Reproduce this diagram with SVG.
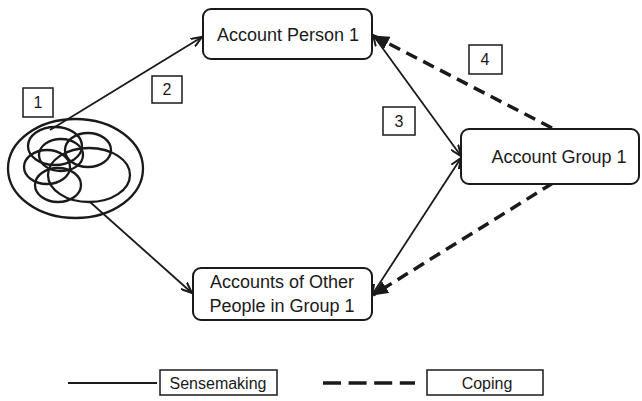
<svg xmlns="http://www.w3.org/2000/svg" width="642" height="401" viewBox="0 0 642 401">
<style>
.node{fill:#fff;stroke:#1a1a1a;stroke-width:2}
.lbl{font-family:"Liberation Sans",Arial,sans-serif;font-size:18px;fill:#1a1a1a;text-anchor:middle}
.num{font-family:"Liberation Sans",Arial,sans-serif;font-size:16px;fill:#1a1a1a;text-anchor:middle}
.nbox{fill:#fff;stroke:#1a1a1a;stroke-width:1.5}
.solid{fill:none;stroke:#1a1a1a;stroke-width:1.8}
.dash{fill:none;stroke:#1a1a1a;stroke-width:3.5;stroke-dasharray:12 7}
.ell{fill:none;stroke:#1a1a1a;stroke-width:2.3}
</style>
<defs>
<marker id="arr" viewBox="0 0 12 10" refX="11" refY="5" markerWidth="12" markerHeight="10" markerUnits="userSpaceOnUse" orient="auto-start-reverse">
<path d="M0,0.5 L11,5 L0,9.5" fill="none" stroke="#1a1a1a" stroke-width="2"/>
</marker>
<marker id="darr" viewBox="0 0 16 14" refX="15" refY="7" markerWidth="16" markerHeight="14" markerUnits="userSpaceOnUse" orient="auto-start-reverse">
<path d="M0,0 L16,7 L0,14 Z" fill="#1a1a1a"/>
</marker>
</defs>

<g id="connectors">
<line class="solid" x1="50" y1="130" x2="202" y2="37" marker-end="url(#arr)"/>
<line class="solid" x1="90" y1="202" x2="192" y2="293" marker-end="url(#arr)"/>
<line class="solid" x1="373" y1="35" x2="461" y2="156" marker-start="url(#arr)" marker-end="url(#arr)"/>
<line class="solid" x1="372" y1="295" x2="461" y2="158" marker-start="url(#arr)" marker-end="url(#arr)"/>
<line class="dash" x1="552" y1="128" x2="374" y2="36" marker-end="url(#darr)"/>
<line class="dash" x1="553" y1="183" x2="373" y2="295" marker-end="url(#darr)"/>
</g>

<g id="cluster">
<ellipse class="ell" cx="75.5" cy="168.5" rx="67.5" ry="49.5"/>
<ellipse class="ell" cx="55" cy="146" rx="27" ry="19"/>
<ellipse class="ell" cx="88" cy="150" rx="23" ry="17"/>
<ellipse class="ell" cx="61" cy="155" rx="22" ry="16"/>
<ellipse class="ell" cx="47" cy="167" rx="23" ry="17"/>
<ellipse class="ell" cx="58" cy="185" rx="23" ry="17"/>
<ellipse class="ell" cx="89" cy="175" rx="41" ry="27"/>
</g>

<g id="person1">
<rect class="node" x="203" y="9" width="169" height="50" rx="8"/>
<text class="lbl" x="288" y="41">Account Person 1</text>
</g>

<g id="group1">
<rect class="node" x="461" y="129" width="178" height="55" rx="8"/>
<text class="lbl" x="559" y="163">Account Group 1</text>
</g>

<g id="others">
<rect class="node" x="193" y="268" width="179" height="52" rx="8"/>
<text class="lbl" x="282" y="288">Accounts of Other</text>
<text class="lbl" x="282" y="312">People in Group 1</text>
</g>

<g id="n1"><rect class="nbox" x="23" y="88" width="30" height="29"/><text class="num" x="38" y="108">1</text></g>
<g id="n2"><rect class="nbox" x="152" y="76" width="30" height="27"/><text class="num" x="167" y="95">2</text></g>
<g id="n3"><rect class="nbox" x="383" y="107" width="32" height="28"/><text class="num" x="399" y="127">3</text></g>
<g id="n4"><rect class="nbox" x="469" y="45" width="33" height="29"/><text class="num" x="485" y="65">4</text></g>

<g id="legend">
<line x1="68" y1="383" x2="157" y2="383" stroke="#1a1a1a" stroke-width="1.8"/>
<rect class="nbox" x="160" y="370" width="117" height="25"/>
<text class="num" x="218" y="389">Sensemaking</text>
<line x1="323" y1="383" x2="415" y2="383" stroke="#1a1a1a" stroke-width="3.5" stroke-dasharray="18 7.6"/>
<rect class="nbox" x="427" y="370" width="116" height="25"/>
<text class="num" x="487" y="389">Coping</text>
</g>
</svg>
